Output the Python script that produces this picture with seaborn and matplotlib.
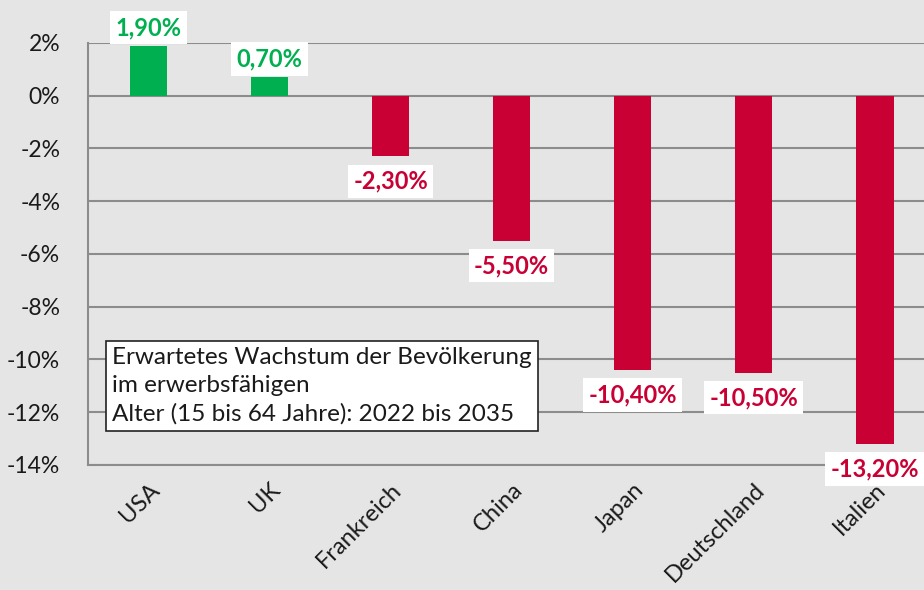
import pandas as pd
import seaborn as sns
import matplotlib.pyplot as plt

# data
countries = ['USA', 'UK', 'Frankreich', 'China', 'Japan', 'Deutschland', 'Italien']
growth = [1.9, 0.7, -2.3, -5.5, -10.4, -10.5, -13.2]
yticks = [2, 0, -2, -4, -6, -8, -10, -12, -14]

GREEN = '#00B050'
RED = '#C80034'
BG = '#E5E5E5'
GRID = '#8C8C8C'

df = pd.DataFrame({'Land': countries, 'Wachstum': growth})
colors = [GREEN if v >= 0 else RED for v in growth]

sns.set_theme(style='white')
plt.rcParams['font.family'] = ['Lato', 'DejaVu Sans']

fig = plt.figure(figsize=(9.24, 5.9), dpi=100, facecolor=BG)
ax = fig.add_axes([0.0952, 0.2119, 0.917, 0.7153])
ax.set_facecolor(BG)

sns.barplot(data=df, x='Land', y='Wachstum', hue='Land', palette=colors,
            legend=False, width=0.31, saturation=1, linewidth=0, ax=ax, zorder=3)

ax.set_ylim(-14, 2)
ax.set_xlim(-0.5, 6.5)
ax.set_yticks(yticks)
ax.set_yticklabels([f'{t}%' for t in yticks], fontsize=16.5, color='#1a1a1a')
ax.yaxis.grid(True, color=GRID, linewidth=1.5, zorder=0)
ax.set_axisbelow(True)
ax.tick_params(axis='y', length=0, pad=20)
ax.tick_params(axis='x', length=0, pad=10)
ax.set_xlabel('')
ax.set_ylabel('')
for s in ['top', 'right']:
    ax.spines[s].set_visible(False)
for s in ['left', 'bottom']:
    ax.spines[s].set_color(GRID)
    ax.spines[s].set_linewidth(1.5)

ax.set_xticks(range(len(countries)))
ax.set_xticklabels(countries, rotation=45, ha='right', rotation_mode='anchor',
                   fontsize=17, color='#1a1a1a')

# value labels with white boxes
for i, v in enumerate(growth):
    txt = f'{v:.2f}'.replace('.', ',') + '%'
    c = GREEN if v >= 0 else RED
    off = 13 if v >= 0 else -18
    ax.annotate(txt, (i, v), xytext=(0, off), textcoords='offset points',
                ha='center', va='center', fontsize=17, fontweight='bold', color=c,
                bbox=dict(boxstyle='square,pad=0.22', fc='white', ec='none'),
                zorder=5, annotation_clip=False)

fig.text(0.121, 0.346,
         'Erwartetes Wachstum der Bevölkerung\nim erwerbsfähigen\nAlter (15 bis 64 Jahre): 2022 bis 2035',
         fontsize=17.5, color='#1a1a1a', va='center', ha='left', linespacing=1.4,
         bbox=dict(boxstyle='square,pad=0.25', fc='white', ec='#222222', lw=1.2),
         zorder=6)

fig.savefig('out.png', dpi=100, facecolor=BG)
